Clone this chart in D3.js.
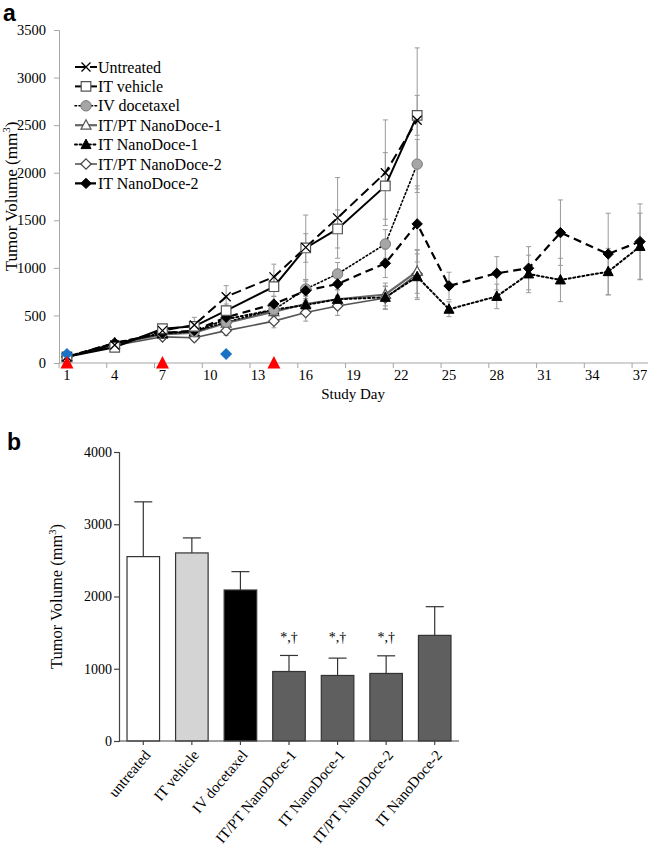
<!DOCTYPE html>
<html><head><meta charset="utf-8">
<script src="https://cdn.jsdelivr.net/npm/d3@7"></script>
<style>body{margin:0;background:#fff}svg{display:block}svg text{font-family:"Liberation Serif","Times New Roman",serif;fill:#000}</style>
</head><body><svg id="c" width="649" height="851" style="font-family:'Liberation Serif',serif"></svg>
<script>
// ---------- Panel a data ----------
const days = [1,4,7,9,11,14,16,18,21,23,25,28,30,32,35,37];
const dayTicks = [1,4,7,10,13,16,19,22,25,28,31,34,37];
const yTicksA = [0,500,1000,1500,2000,2500,3000,3500];
const seriesNames = ["Untreated","IT vehicle","IV docetaxel","IT/PT NanoDoce-1","IT NanoDoce-1","IT/PT NanoDoce-2","IT NanoDoce-2"];
const untreated   = [65,190,340,400,697,905,1215,1525,2000,2552];
const itVehicle   = [65,165,360,385,550,802,1209,1409,1861,2603];
const ivDocetaxel = [65,195,320,330,430,560,778,936,1251,2090];
const itptNano1   = [65,200,300,320,420,540,620,670,720,962];
const itNano1     = [65,210,310,330,460,560,610,670,690,907,565,700,936,873,960,1225];
const itptNano2   = [65,185,275,265,340,440,530,600,683,935];
const itNano2     = [65,210,315,340,480,620,760,831,1048,1462,810,943,996,1370,1146,1276];
const errUntreated   = [10,20,40,80,116,134,340,424,555,760];
const errItVehicle   = [10,20,30,50,70,100,150,200,350,210];
const errIvDocetaxel = [10,20,30,40,50,70,100,120,150,260];
const errItptNano1   = [10,20,30,40,50,70,90,100,120,230];
const errItNano1     = [10,20,30,40,50,70,90,100,120,240,78,129,197,228,245,350];
const errItptNano2   = [10,20,30,40,50,70,90,100,120,250];
const errItNano2     = [10,20,30,40,60,80,100,120,150,400,144,175,227,344,428,396];
const doseDaysIT = [1,7,14];      // red triangles
const doseDaysIV = [1,11];        // blue diamonds
const doseMarkerIV = 95;

// ---------- Panel b data ----------
const barCategories = ["untreated","IT vehicle","IV docetaxel","IT/PT NanoDoce-1","IT NanoDoce-1","IT/PT NanoDoce-2","IT NanoDoce-2"];
const barValues = [2552,2603,2090,962,907,935,1462];
const barErrors = [758,208,254,222,240,244,397];
const barSignif = ["","","","*,\u2020","*,\u2020","*,\u2020",""];
const yTicksB = [0,1000,2000,3000,4000];

const SERIF = "'Liberation Serif','Times New Roman',serif";
const svg = d3.select("#c");

// ---------- styles ----------
const seriesValues = [untreated,itVehicle,ivDocetaxel,itptNano1,itNano1,itptNano2,itNano2];
const seriesErrors = [errUntreated,errItVehicle,errIvDocetaxel,errItptNano1,errItNano1,errItptNano2,errItNano2];
const styles = [
  {stroke:"#000", w:2,   dash:"10,5", marker:"x"},
  {stroke:"#000", w:2,   dash:null,   marker:"square"},
  {stroke:"#000", w:1.6, dash:"1.6,2.4", marker:"circle", cap:"round"},
  {stroke:"#666", w:2.2, dash:null,   marker:"triOpen"},
  {stroke:"#000", w:2,   dash:"2,2.6",  marker:"triFilled", cap:"round"},
  {stroke:"#555", w:1.6, dash:null,   marker:"diaOpen"},
  {stroke:"#000", w:2.2, dash:"8,5",  marker:"diaFilled"}
];

function markerPath(type, s) {
  switch(type){
    case "x": return `M${-s},${-s}L${s},${s}M${-s},${s}L${s},${-s}`;
    case "square": return `M${-s},${-s}H${s}V${s}H${-s}Z`;
    case "tri": return `M0,${-s*1.1}L${s},${s*0.8}L${-s},${s*0.8}Z`;
    case "dia": return `M0,${-s}L${s},0L0,${s}L${-s},0Z`;
  }
}
function drawMarker(g, type, x, y) {
  if (type === "circle") {
    g.append("circle").attr("cx",x).attr("cy",y).attr("r",5.2).attr("fill","#a6a6a6").attr("stroke","#7a7a7a").attr("stroke-width",1);
    return;
  }
  const p = g.append("path").attr("transform",`translate(${x},${y})`);
  if (type === "x") p.attr("d",markerPath("x",4.5)).attr("fill","none").attr("stroke","#000").attr("stroke-width",1.3);
  else if (type === "square") p.attr("d",markerPath("square",4.8)).attr("fill","#fff").attr("stroke","#555").attr("stroke-width",1.2);
  else if (type === "triOpen") p.attr("d",markerPath("tri",5)).attr("fill","#fff").attr("stroke","#555").attr("stroke-width",1.2);
  else if (type === "triFilled") p.attr("d",markerPath("tri",5)).attr("fill","#000").attr("stroke","#000").attr("stroke-width",1);
  else if (type === "diaOpen") p.attr("d",markerPath("dia",5.2)).attr("fill","#fff").attr("stroke","#444").attr("stroke-width",1.2);
  else if (type === "diaFilled") p.attr("d",markerPath("dia",5.2)).attr("fill","#000").attr("stroke","#000").attr("stroke-width",1);
}
function txt(g){ return g.append("text").style("font-family",SERIF).attr("fill","#000"); }

// ---------- Panel a ----------
const xA = d3.scaleLinear().domain([0.5,37.5]).range([59,648]);
const yA = d3.scaleLinear().domain([0,3500]).range([363,30]);
const axisGray = "#a6a6a6";

svg.append("text").attr("x",3).attr("y",21).text("a")
  .style("font-family","'Liberation Sans',Arial,sans-serif").style("font-weight","bold").style("font-size","23px");

// y axis
const gyA = svg.append("g").attr("transform",`translate(${xA(0.5)},0)`)
  .call(d3.axisLeft(yA).tickValues(yTicksA).tickSize(5).tickPadding(8).tickFormat(d3.format("d")));
gyA.attr("font-family",null);
gyA.select(".domain").attr("stroke",axisGray);
gyA.selectAll(".tick line").attr("stroke",axisGray);
gyA.selectAll("text").style("font-family",SERIF).style("font-size","14.5px").attr("fill","#000");

// x axis
const gxA = svg.append("g").attr("transform",`translate(0,${yA(0)})`);
gxA.append("line").attr("x1",xA(0.5)).attr("x2",xA(37.5)).attr("stroke",axisGray).attr("stroke-width",1);
gxA.selectAll("line.t").data(dayTicks).join("line").attr("class","t")
  .attr("x1",d=>xA(d-0.5)).attr("x2",d=>xA(d-0.5)).attr("y1",0).attr("y2",5).attr("stroke",axisGray);
gxA.selectAll("text").data(dayTicks).join("text")
  .attr("x",d=>xA(d)).attr("y",17).attr("text-anchor","middle")
  .style("font-family",SERIF).style("font-size","14.5px").text(d=>d);
txt(svg).attr("x",353).attr("y",399).attr("text-anchor","middle").style("font-size","15px").text("Study Day");
txt(svg).attr("transform",`translate(17,${(yA(0)+yA(3500))/2}) rotate(-90)`).attr("text-anchor","middle")
  .style("font-size","17px").html("Tumor Volume (mm<tspan dy='-7' font-size='11px'>3</tspan><tspan dy='7'>)</tspan>");

// error bars
const gErr = svg.append("g");
seriesValues.forEach((vals,si)=>{
  vals.forEach((v,i)=>{
    const e = seriesErrors[si][i];
    const x = xA(days[i]);
    gErr.append("line").attr("x1",x).attr("x2",x).attr("y1",yA(v+e)).attr("y2",yA(Math.max(0,v-e))).attr("stroke","#9a9a9a").attr("stroke-width",1);
    [v+e, Math.max(0,v-e)].forEach(t=>gErr.append("line").attr("x1",x-2.5).attr("x2",x+2.5).attr("y1",yA(t)).attr("y2",yA(t)).attr("stroke","#9a9a9a").attr("stroke-width",1));
  });
});

// lines
const line = d3.line().x((d,i)=>xA(days[i])).y(d=>yA(d));
const drawOrder = [5,3,4,2,6,1,0];
drawOrder.forEach(si=>{
  const st = styles[si];
  svg.append("path").datum(seriesValues[si]).attr("d",line).attr("fill","none")
    .attr("stroke",st.stroke).attr("stroke-width",st.w).attr("stroke-dasharray",st.dash)
    .attr("stroke-linecap", st.cap || "butt");
});
// markers
const gM = svg.append("g");
drawOrder.forEach(si=>{
  seriesValues[si].forEach((v,i)=>drawMarker(gM, styles[si].marker, xA(days[i]), yA(v)));
});

// dose markers
doseDaysIV.forEach(d=>{
  svg.append("path").attr("transform",`translate(${xA(d)},${yA(doseMarkerIV)})`).attr("d",markerPath("dia",6)).attr("fill","#1a72c4");
});
doseDaysIT.forEach(d=>{
  svg.append("path").attr("transform",`translate(${xA(d)},${yA(0)})`).attr("d","M0,-7L6.5,5.5L-6.5,5.5Z").attr("fill","#ff0000");
});

// legend
const legY0 = 67, legDy = 19.4;
seriesNames.forEach((n,i)=>{
  const y = legY0 + i*legDy, st = styles[i];
  svg.append("line").attr("x1",75).attr("x2",97).attr("y1",y).attr("y2",y)
    .attr("stroke",st.stroke).attr("stroke-width",st.w).attr("stroke-dasharray",st.dash).attr("stroke-linecap", st.cap || "butt");
  drawMarker(svg, st.marker, 86, y);
  txt(svg).attr("x",98).attr("y",y+5.5).style("font-size","16px").text(n);
});

// ---------- Panel b ----------
svg.append("text").attr("x",7).attr("y",450).text("b")
  .style("font-family","'Liberation Sans',Arial,sans-serif").style("font-weight","bold").style("font-size","23px");
const xB = d3.scaleBand().domain(barCategories).range([119,459]).paddingInner(0.33).paddingOuter(0.165);
const yB = d3.scaleLinear().domain([0,4000]).range([741,452]);
const barFills = ["#ffffff","#d4d4d4","#000000","#5f5f5f","#5f5f5f","#5f5f5f","#5f5f5f"];

// error bars (upward)
barCategories.forEach((c,i)=>{
  const cx = xB(c)+xB.bandwidth()/2;
  svg.append("line").attr("x1",cx).attr("x2",cx).attr("y1",yB(barValues[i])).attr("y2",yB(barValues[i]+barErrors[i])).attr("stroke","#333").attr("stroke-width",1.2);
  svg.append("line").attr("x1",cx-9).attr("x2",cx+9).attr("y1",yB(barValues[i]+barErrors[i])).attr("y2",yB(barValues[i]+barErrors[i])).attr("stroke","#333").attr("stroke-width",1.2);
});
svg.selectAll("rect.bar").data(barValues).join("rect").attr("class","bar")
  .attr("x",(d,i)=>xB(barCategories[i])).attr("width",xB.bandwidth())
  .attr("y",d=>yB(d)).attr("height",d=>yB(0)-yB(d))
  .attr("fill",(d,i)=>barFills[i]).attr("stroke","#333").attr("stroke-width",1.2);
barSignif.forEach((s,i)=>{
  if(!s) return;
  txt(svg).attr("x",xB(barCategories[i])+xB.bandwidth()/2).attr("y",642).attr("text-anchor","middle").style("font-size","14px").text(s);
});

const gyB = svg.append("g").attr("transform",`translate(119,0)`)
  .call(d3.axisLeft(yB).tickValues(yTicksB).tickSize(5).tickPadding(2).tickFormat(d3.format("d")));
gyB.attr("font-family",null);
gyB.select(".domain").attr("stroke","#444").attr("stroke-width",1.2);
gyB.selectAll(".tick line").attr("stroke","#444").attr("stroke-width",1.2);
gyB.selectAll("text").style("font-family",SERIF).style("font-size","14px").attr("fill","#000");

const gxB = svg.append("g").attr("transform",`translate(0,${yB(0)})`);
gxB.append("line").attr("x1",119).attr("x2",459).attr("stroke","#444").attr("stroke-width",1.2);
barCategories.forEach(c=>{
  const cx = xB(c)+xB.bandwidth()/2;
  gxB.append("line").attr("x1",cx).attr("x2",cx).attr("y1",0).attr("y2",4).attr("stroke","#444").attr("stroke-width",1.2);
  txt(gxB).attr("transform",`translate(${cx+4},11) rotate(-50)`).attr("text-anchor","end").attr("dy","0.35em").style("font-size","15px").text(c);
});
txt(svg).attr("transform",`translate(62,${(yB(0)+yB(4000))/2}) rotate(-90)`).attr("text-anchor","middle")
  .style("font-size","16.5px").html("Tumor Volume (mm<tspan dy='-6' font-size='10.5px'>3</tspan><tspan dy='6'>)</tspan>");
</script></body></html>
